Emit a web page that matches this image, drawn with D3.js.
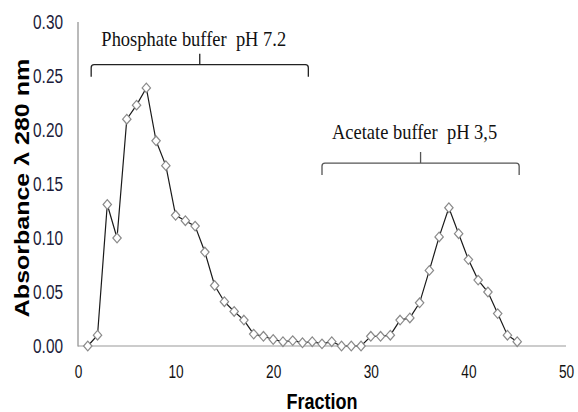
<!DOCTYPE html>
<html>
<head>
<meta charset="utf-8">
<script src="https://cdn.jsdelivr.net/npm/d3@7"></script>
<style>
  body { margin: 0; background: #fff; }
</style>
</head>
<body>
<div id="chart"></div>
<script>
const fractions = [1, 2, 3, 4, 5, 6, 7, 8, 9, 10, 11, 12, 13, 14, 15, 16, 17, 18, 19, 20,
  21, 22, 23, 24, 25, 26, 27, 28, 29, 30, 31, 32, 33, 34, 35, 36, 37, 38, 39, 40,
  41, 42, 43, 44, 45]
const absorbance = [0.000, 0.010, 0.131, 0.100, 0.210, 0.223, 0.239, 0.190, 0.167, 0.121,
  0.116, 0.111, 0.087, 0.056, 0.041, 0.032, 0.024, 0.011, 0.009, 0.006,
  0.004, 0.005, 0.003, 0.004, 0.002, 0.004, 0.000, 0.000, 0.000, 0.009,
  0.009, 0.010, 0.024, 0.026, 0.040, 0.070, 0.101, 0.128, 0.104, 0.080,
  0.061, 0.050, 0.030, 0.010, 0.004]
const xTicks = [0, 10, 20, 30, 40, 50]
const yTicks = [0, 0.05, 0.10, 0.15, 0.20, 0.25, 0.30]

// buffer brackets, in data units
const bufferLabels = ["Phosphate buffer  pH 7.2", "Acetate buffer  pH 3,5"]
const bufferRanges = [[1.35, 23.6], [25.0, 45.2]]
const bufferLevels = [0.2605, 0.1694]

const width = 578, height = 412
const x = d3.scaleLinear([0, 50], [78, 566])
const y = d3.scaleLinear([0, 0.30], [346, 22])

const svg = d3.create("svg")
    .attr("width", width)
    .attr("height", height)
    .attr("viewBox", [0, 0, width, height])

// axes (no tick marks, grey lines)
svg.append("line")
    .attr("x1", x(0)).attr("x2", x(0))
    .attr("y1", y(0.30)).attr("y2", y(0) + 0.5)
    .attr("stroke", "#8c8c8c").attr("stroke-width", 1.2)
svg.append("line")
    .attr("x1", x(0)).attr("x2", x(50))
    .attr("y1", y(0)).attr("y2", y(0))
    .attr("stroke", "#9a9a9a").attr("stroke-width", 1.2)

// the source picture is squeezed sideways, so tick text is narrowed by hand
const yAxis = svg.append("g")
    .attr("transform", `translate(${x(0)},0)`)
    .call(d3.axisLeft(y).tickValues(yTicks).tickFormat(d3.format(".2f")).tickSize(0))
yAxis.select(".domain").remove()
yAxis.selectAll("text")
    .attr("x", 0)
    .attr("transform", "translate(-15,0) scale(0.77,1)")
    .attr("font-family", "'Liberation Sans', Arial, sans-serif")
    .attr("font-size", 20)
    .attr("fill", "#1c1c3a")

const xAxis = svg.append("g")
    .attr("transform", `translate(0,${y(0)})`)
    .call(d3.axisBottom(x).tickValues(xTicks).tickFormat(d3.format("d")).tickSize(0).tickPadding(19))
xAxis.select(".domain").remove()
xAxis.selectAll("text")
    .attr("font-family", "'Liberation Sans', Arial, sans-serif")
    .attr("font-size", 19)
    .attr("fill", "#111")
    .attr("transform", "scale(0.72,1)")

// axis titles
svg.append("text")
    .attr("transform", `translate(${(x(0) + x(50)) / 2},409) scale(0.82,1)`)
    .attr("text-anchor", "middle")
    .attr("font-family", "'Liberation Sans', Arial, sans-serif")
    .attr("font-weight", "bold")
    .attr("font-size", 22)
    .attr("fill", "#000")
    .text("Fraction")

svg.append("text")
    .attr("transform", `translate(29,188) rotate(-90) scale(1,0.83)`)
    .attr("text-anchor", "middle")
    .attr("font-family", "'Liberation Sans', Arial, sans-serif")
    .attr("font-weight", "bold")
    .attr("font-size", 25)
    .attr("fill", "#000")
    .text("Absorbance λ 280 nm")

// line + diamond markers
const data = fractions.map((f, i) => ({f, v: absorbance[i]}))

svg.append("path")
    .datum(data)
    .attr("fill", "none")
    .attr("stroke", "#1a1a1a")
    .attr("stroke-width", 1.2)
    .attr("d", d3.line().x(d => x(d.f)).y(d => y(d.v)))

svg.append("g")
  .selectAll("path")
  .data(data)
  .join("path")
    .attr("transform", d => `translate(${x(d.f)},${y(d.v)})`)
    .attr("d", "M0,-4.8L4.2,0L0,4.8L-4.2,0Z")
    .attr("fill", "#fff")
    .attr("stroke", "#8a8a8a")
    .attr("stroke-width", 1.2)

// brackets
const bracketColors = ["#222", "#555"]
const labelOffsets = [-19, -24]
const drop = 12, rise = 11, r = 3
bufferRanges.forEach(([a, b], i) => {
  const x0 = x(a), x1 = x(b), yy = y(bufferLevels[i]), xm = (x0 + x1) / 2
  const p = d3.path()
  p.moveTo(x0, yy + drop)
  p.lineTo(x0, yy + r)
  p.quadraticCurveTo(x0, yy, x0 + r, yy)
  p.lineTo(x1 - r, yy)
  p.quadraticCurveTo(x1, yy, x1, yy + r)
  p.lineTo(x1, yy + drop)
  p.moveTo(xm, yy)
  p.lineTo(xm, yy - rise)
  svg.append("path")
      .attr("d", p.toString())
      .attr("fill", "none")
      .attr("stroke", bracketColors[i])
      .attr("stroke-width", 1.3)

  svg.append("text")
      .attr("transform", `translate(${xm - 6},${yy + labelOffsets[i]}) scale(0.84,1)`)
      .attr("text-anchor", "middle")
      .attr("font-family", "'Liberation Serif', 'Times New Roman', serif")
      .attr("font-size", 22)
      .attr("fill", "#111")
      .style("white-space", "pre")
      .text(bufferLabels[i])
})

d3.select("#chart").node().appendChild(svg.node())
</script>
</body>
</html>
